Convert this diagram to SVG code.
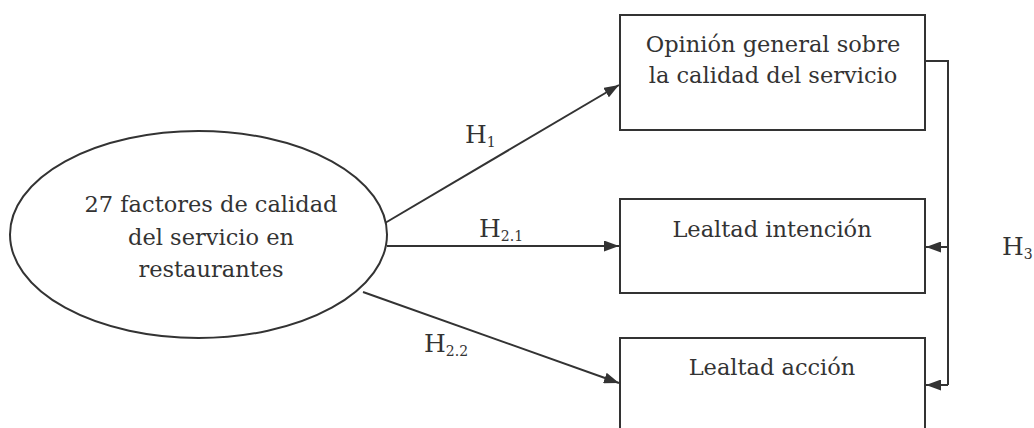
<svg xmlns="http://www.w3.org/2000/svg" width="1034" height="428" viewBox="0 0 1034 428">
<defs>
<style>
text{font-family:'DejaVu Serif',serif;font-size:22.5px;fill:#333}
.t{text-anchor:middle}
.h{font-size:25px}
.s{font-size:14px}
.n{fill:#fff;stroke:#333;stroke-width:2}
.c{fill:none;stroke:#333;stroke-width:2}
</style>
<marker id="a" viewBox="0 0 15 11" refX="15" refY="5.5" markerWidth="15" markerHeight="11" markerUnits="userSpaceOnUse" orient="auto">
<path d="M0,0 L15,5.5 L0,11 Z" fill="#333"/>
</marker>
</defs>
<rect width="1034" height="428" fill="#fff"/>
<g id="connectors">
<line class="c" x1="385" y1="223" x2="619" y2="85" marker-end="url(#a)"/>
<line class="c" x1="387" y1="246" x2="619" y2="246" marker-end="url(#a)"/>
<line class="c" x1="363" y1="292" x2="619" y2="383" marker-end="url(#a)"/>
<polyline class="c" points="925,61 948,61 948,385"/>
<line class="c" x1="948" y1="247" x2="926" y2="247" marker-end="url(#a)"/>
<line class="c" x1="948" y1="385" x2="926" y2="385" marker-end="url(#a)"/>
</g>
<g id="factores">
<ellipse class="n" cx="198.5" cy="234.5" rx="188.5" ry="103.5"/>
<text class="t" x="211" y="212">27 factores de calidad</text>
<text class="t" x="211" y="245">del servicio en</text>
<text class="t" x="211" y="277">restaurantes</text>
</g>
<g id="opinion">
<rect class="n" x="620" y="15" width="305" height="115"/>
<text class="t" x="773" y="52">Opinión general sobre</text>
<text class="t" x="773" y="83">la calidad del servicio</text>
</g>
<g id="intencion">
<rect class="n" x="620" y="199" width="305" height="94"/>
<text class="t" x="772" y="237">Lealtad intención</text>
</g>
<g id="accion">
<rect class="n" x="620" y="338" width="305" height="100"/>
<text class="t" x="772" y="375">Lealtad acción</text>
</g>
<g id="labels">
<text class="h" x="465" y="143">H<tspan class="s" dy="4">1</tspan></text>
<text class="h" x="479" y="237">H<tspan class="s" dy="4">2.1</tspan></text>
<text class="h" x="424" y="352">H<tspan class="s" dy="4">2.2</tspan></text>
<text class="h" x="1002" y="255">H<tspan class="s" dy="4">3</tspan></text>
</g>
</svg>
